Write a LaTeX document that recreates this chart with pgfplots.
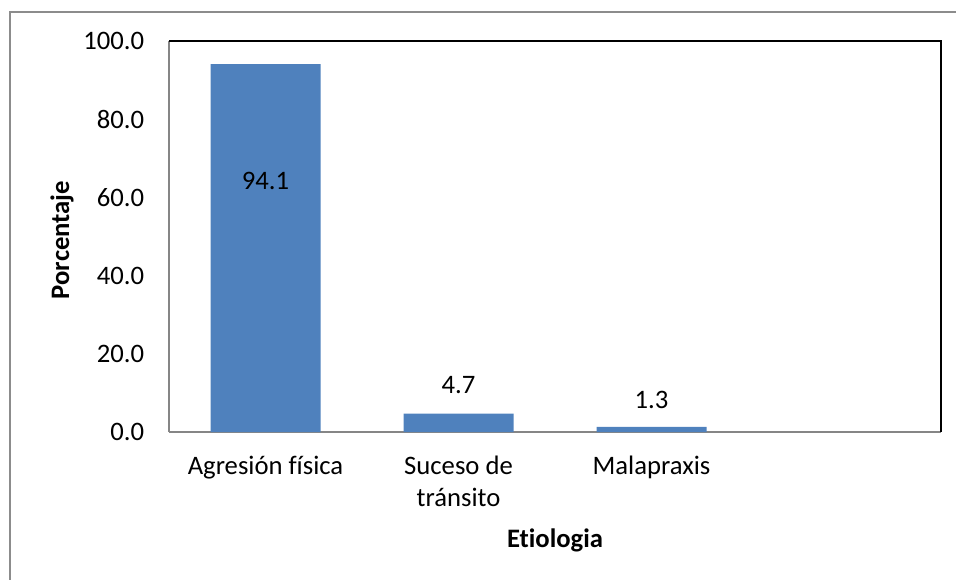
\documentclass[border=0pt]{standalone}
\usepackage{pgfplots}
\pgfplotsset{compat=1.18}
\usepackage{fontspec}
\setmainfont[Ligatures=NoCommon]{Carlito}
\definecolor{barblue}{HTML}{4F81BD}
\definecolor{axgray}{HTML}{868686}
\definecolor{framegray}{HTML}{8C8C8C}
\newcommand{\lblfont}{\fontsize{20}{24}\selectfont}
\begin{document}
\begin{tikzpicture}
\useasboundingbox (0pt,0pt) rectangle (717pt,-435pt);
\draw[framegray, line width=1.2pt] (7.5pt,-440pt) -- (7.5pt,-9pt) -- (725pt,-9pt);
\begin{axis}[
  at={(126.75pt,-324pt)}, anchor=south west,
  scale only axis, width=579pt, height=293.25pt,
  xmin=-0.5, xmax=3.5, ymin=0, ymax=100,
  xtick={0,1,2}, xticklabels={Agresión física, {Suceso de\\tránsito}, Malapraxis},
  ytick={0,20,40,60,80,100},
  yticklabel={\pgfmathprintnumber[fixed,fixed zerofill,precision=1]{\tick}},
  /pgf/number format/assume math mode=true,
  tick style={draw=none},
  major tick length=0pt,
  ticklabel style={font=\lblfont},
  yticklabel style={inner sep=0pt, anchor=east, xshift=-18.5pt},
  xticklabel style={align=center, anchor=north, inner sep=0pt, yshift=-18pt},
  axis line style={line width=1.5pt},
  axis x line*=bottom, axis y line*=left,
  x axis line style={axgray, -},
  y axis line style={axgray, -},
  clip=false,
]
\addplot[ybar, bar width=82.5pt, fill=barblue, draw=none] coordinates {(0,94.1) (1,4.7) (2,1.3)};
\draw[black, line width=1.2pt] (axis cs:-0.5,100) -- (axis cs:3.5,100) -- (axis cs:3.5,0);
\node[font=\lblfont] at (axis cs:0,64.3) {94.1};
\node[font=\lblfont] at (axis cs:1,11.9) {4.7};
\node[font=\lblfont] at (axis cs:2,8.1) {1.3};
\end{axis}
\node[font=\lblfont\bfseries, rotate=90] at (46.5pt,-180pt) {Porcentaje};
\node[font=\lblfont\bfseries] at (416.25pt,-405pt) {Etiologia};
\end{tikzpicture}
\end{document}
